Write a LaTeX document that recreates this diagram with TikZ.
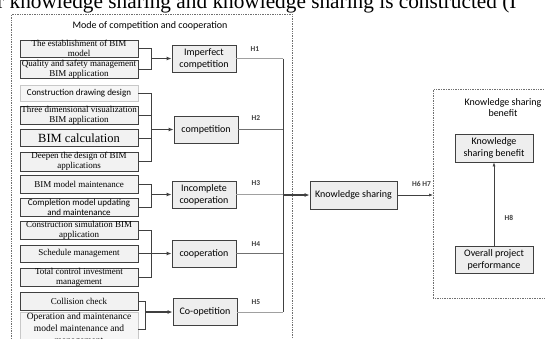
\documentclass[tikz,border=0pt]{standalone}
\usepackage{fontspec}
\setmainfont{Liberation Serif}
\newfontfamily\calfont{Carlito}
\usetikzlibrary{arrows.meta}
\definecolor{cbord}{HTML}{404040}
\definecolor{cfill}{HTML}{F2F2F2}
\definecolor{mfill}{HTML}{EEEEEE}
\definecolor{lbord}{HTML}{C8C8C8}
\definecolor{lfill}{HTML}{F6F6F6}
\definecolor{hline}{HTML}{A0A0A0}
\definecolor{mline}{HTML}{707070}
\definecolor{hlabc}{HTML}{404040}
\tikzset{
  item/.style={draw=cbord, fill=cfill, line width=0.7pt, minimum width=118pt, inner sep=0pt, align=center, font=\fontsize{9}{10}\selectfont},
  itemlt/.style={item, draw=lbord, fill=lfill},
  mode/.style={draw=cbord, fill=mfill, line width=0.8pt, minimum width=64pt, minimum height=27pt, align=center, inner sep=0pt, font=\calfont\fontsize{10}{12}\selectfont},
  hlab/.style={font=\calfont\bfseries\fontsize{7.5}{8}\selectfont, text=hlabc, inner sep=0pt},
  brk/.style={draw=cbord, line width=0.7pt},
  arr/.style={-{Latex[length=5pt,width=4pt]}, line width=1.1pt, draw=cbord},
  thinarr/.style={-{Latex[length=4pt,width=3pt]}, line width=0.6pt, draw=cbord},
  obox/.style={draw=mline, densely dotted, line width=0.7pt, inner sep=0pt},
  ttl/.style={font=\calfont\fontsize{10}{11}\selectfont, align=center, inner sep=0pt}
}
\begin{document}
\begin{tikzpicture}[x=1pt,y=-1pt]
\useasboundingbox (0,0) rectangle (545,338);
\clip (0,0) rectangle (545,338);
% cut-off text line at the top
\node[anchor=base west, inner sep=0pt, font=\fontsize{21.3}{21}\selectfont] (toptext) at (-3,8.7) {r knowledge sharing and knowledge sharing is constructed (I};
% outer boxes
\node[obox, anchor=north west, minimum width=281pt, minimum height=340pt] (lb) at (11,14) {};
\node[obox, anchor=north west, minimum width=130pt, minimum height=209pt] (rb) at (433,89) {};
\node[ttl] (lbt) at (150,26) {Mode of competition and cooperation};
\node[ttl] (rbt) at (503,107.5) {Knowledge sharing\\benefit};
% items
\node[item, minimum height=17pt] (i1) at (79,48.5) {The establishment of BIM\\model};
\node[item, minimum height=18pt] (i2) at (79,69) {Quality and safety management\\BIM application};
\node[itemlt, minimum height=16pt, font=\calfont\fontsize{9}{10}\selectfont] (i3) at (79,93.5) {Construction drawing design};
\node[item, minimum height=17.5pt] (i4) at (79,115) {Three dimensional visualization\\BIM application};
\node[item, minimum height=17pt, font=\fontsize{12.5}{13}\selectfont] (i5) at (79,138) {BIM calculation};
\node[item, minimum height=19pt] (i6) at (79,161.5) {Deepen the design of BIM\\applications};
\node[item, minimum height=18pt] (i7) at (79,184) {BIM model maintenance};
\node[item, minimum height=18pt, font=\calfont\fontsize{9}{10}\selectfont] (i8) at (79,207) {Completion model updating\\and maintenance};
\node[item, minimum height=18pt] (i9) at (79,230) {Construction simulation BIM\\application};
\node[item, minimum height=17pt] (i10) at (79,253.5) {Schedule management};
\node[item, minimum height=18pt] (i11) at (79,277) {Total control investment\\management};
\node[item, minimum height=18pt] (i12) at (79,301) {Collision check};
\node[itemlt, minimum height=32pt, font=\fontsize{9.5}{12}\selectfont] (i13) at (79,329) {Operation and maintenance\\model maintenance and\\management};
% mode boxes
\node[mode] (m1) at (204,58.5) {Imperfect\\competition};
\node[mode] (m2) at (206,129.5) {competition};
\node[mode] (m3) at (204,194.5) {Incomplete\\cooperation};
\node[mode] (m4) at (204,253.5) {cooperation};
\node[mode] (m5) at (205,312) {Co-opetition};
% knowledge sharing
\node[mode, minimum width=87pt, minimum height=28pt] (ks) at (353.5,195) {Knowledge sharing};
\node[mode, minimum width=78pt, minimum height=28pt] (ksb) at (494,148) {Knowledge\\sharing benefit};
\node[mode, minimum width=78pt, minimum height=27pt] (opp) at (494,259.5) {Overall project\\performance};
% bracket reference columns
\coordinate (g1) at (151.5,0);
\coordinate (g5) at (145,0);
\coordinate (bt) at (283,58.5);
\coordinate (bb) at (283,312);
% group 1
\draw[brk] (i1.east) -- (i1.east -| g1) -- (i2.east -| g1) -- (i2.east);
\draw[arr] (m1.west -| g1) -- (m1.west);
% group 2
\draw[brk] (i3.east) -- (i3.east -| g1) -- (i6.east -| g1) -- (i6.east);
\draw[brk] (i4.east) -- (i4.east -| g1);
\draw[brk] (i5.east) -- (i5.east -| g1);
\draw[arr] (m2.west -| g1) -- (m2.west);
% group 3
\draw[brk] (i7.east) -- (i7.east -| g1) -- (i8.east -| g1) -- (i8.east);
\draw[arr] (m3.west -| g1) -- (m3.west);
% group 4
\draw[brk] (i9.east) -- (i9.east -| g1) -- (i11.east -| g1) -- (i11.east);
\draw[brk] (i10.east) -- (i10.east -| g1);
\draw[arr] (m4.west -| g1) -- (m4.west);
% group 5
\draw[brk] (i12.east) -- (i12.east -| g5) -- (i13.east -| g5) -- (i13.east);
\draw[arr] (m5.west -| g5) -- (m5.west);
% lines to bus
\draw[hline, line width=0.7pt] (m1.east) -- (m1.east -| bt);
\draw[mline, line width=0.7pt] (m2.east) -- (m2.east -| bt);
\draw[hline, line width=0.7pt] (m3.east) -- (m3.east -| bt);
\draw[mline, line width=0.7pt] (m4.east) -- (m4.east -| bt);
\draw[hline, line width=0.7pt] (m5.east) -- (m5.east -| bt);
\draw[cbord, line width=0.7pt] (bt) -- (bb);
\draw[arr] (ks.west -| bt) -- (ks.west);
\draw[thinarr] (ks.east) -- (ks.east -| rb.west);
\draw[thinarr] (opp.north) -- (ksb.south);
% labels
\node[hlab] (h1) at (255,49) {H1};
\node[hlab] (h2) at (256,118) {H2};
\node[hlab] (h3) at (256,183) {H3};
\node[hlab] (h4) at (256,244) {H4};
\node[hlab] (h5) at (256,302) {H5};
\node[hlab] (h67) at (421.5,184) {H6 H7};
\node[hlab] (h8) at (509,218) {H8};
\end{tikzpicture}
\end{document}
